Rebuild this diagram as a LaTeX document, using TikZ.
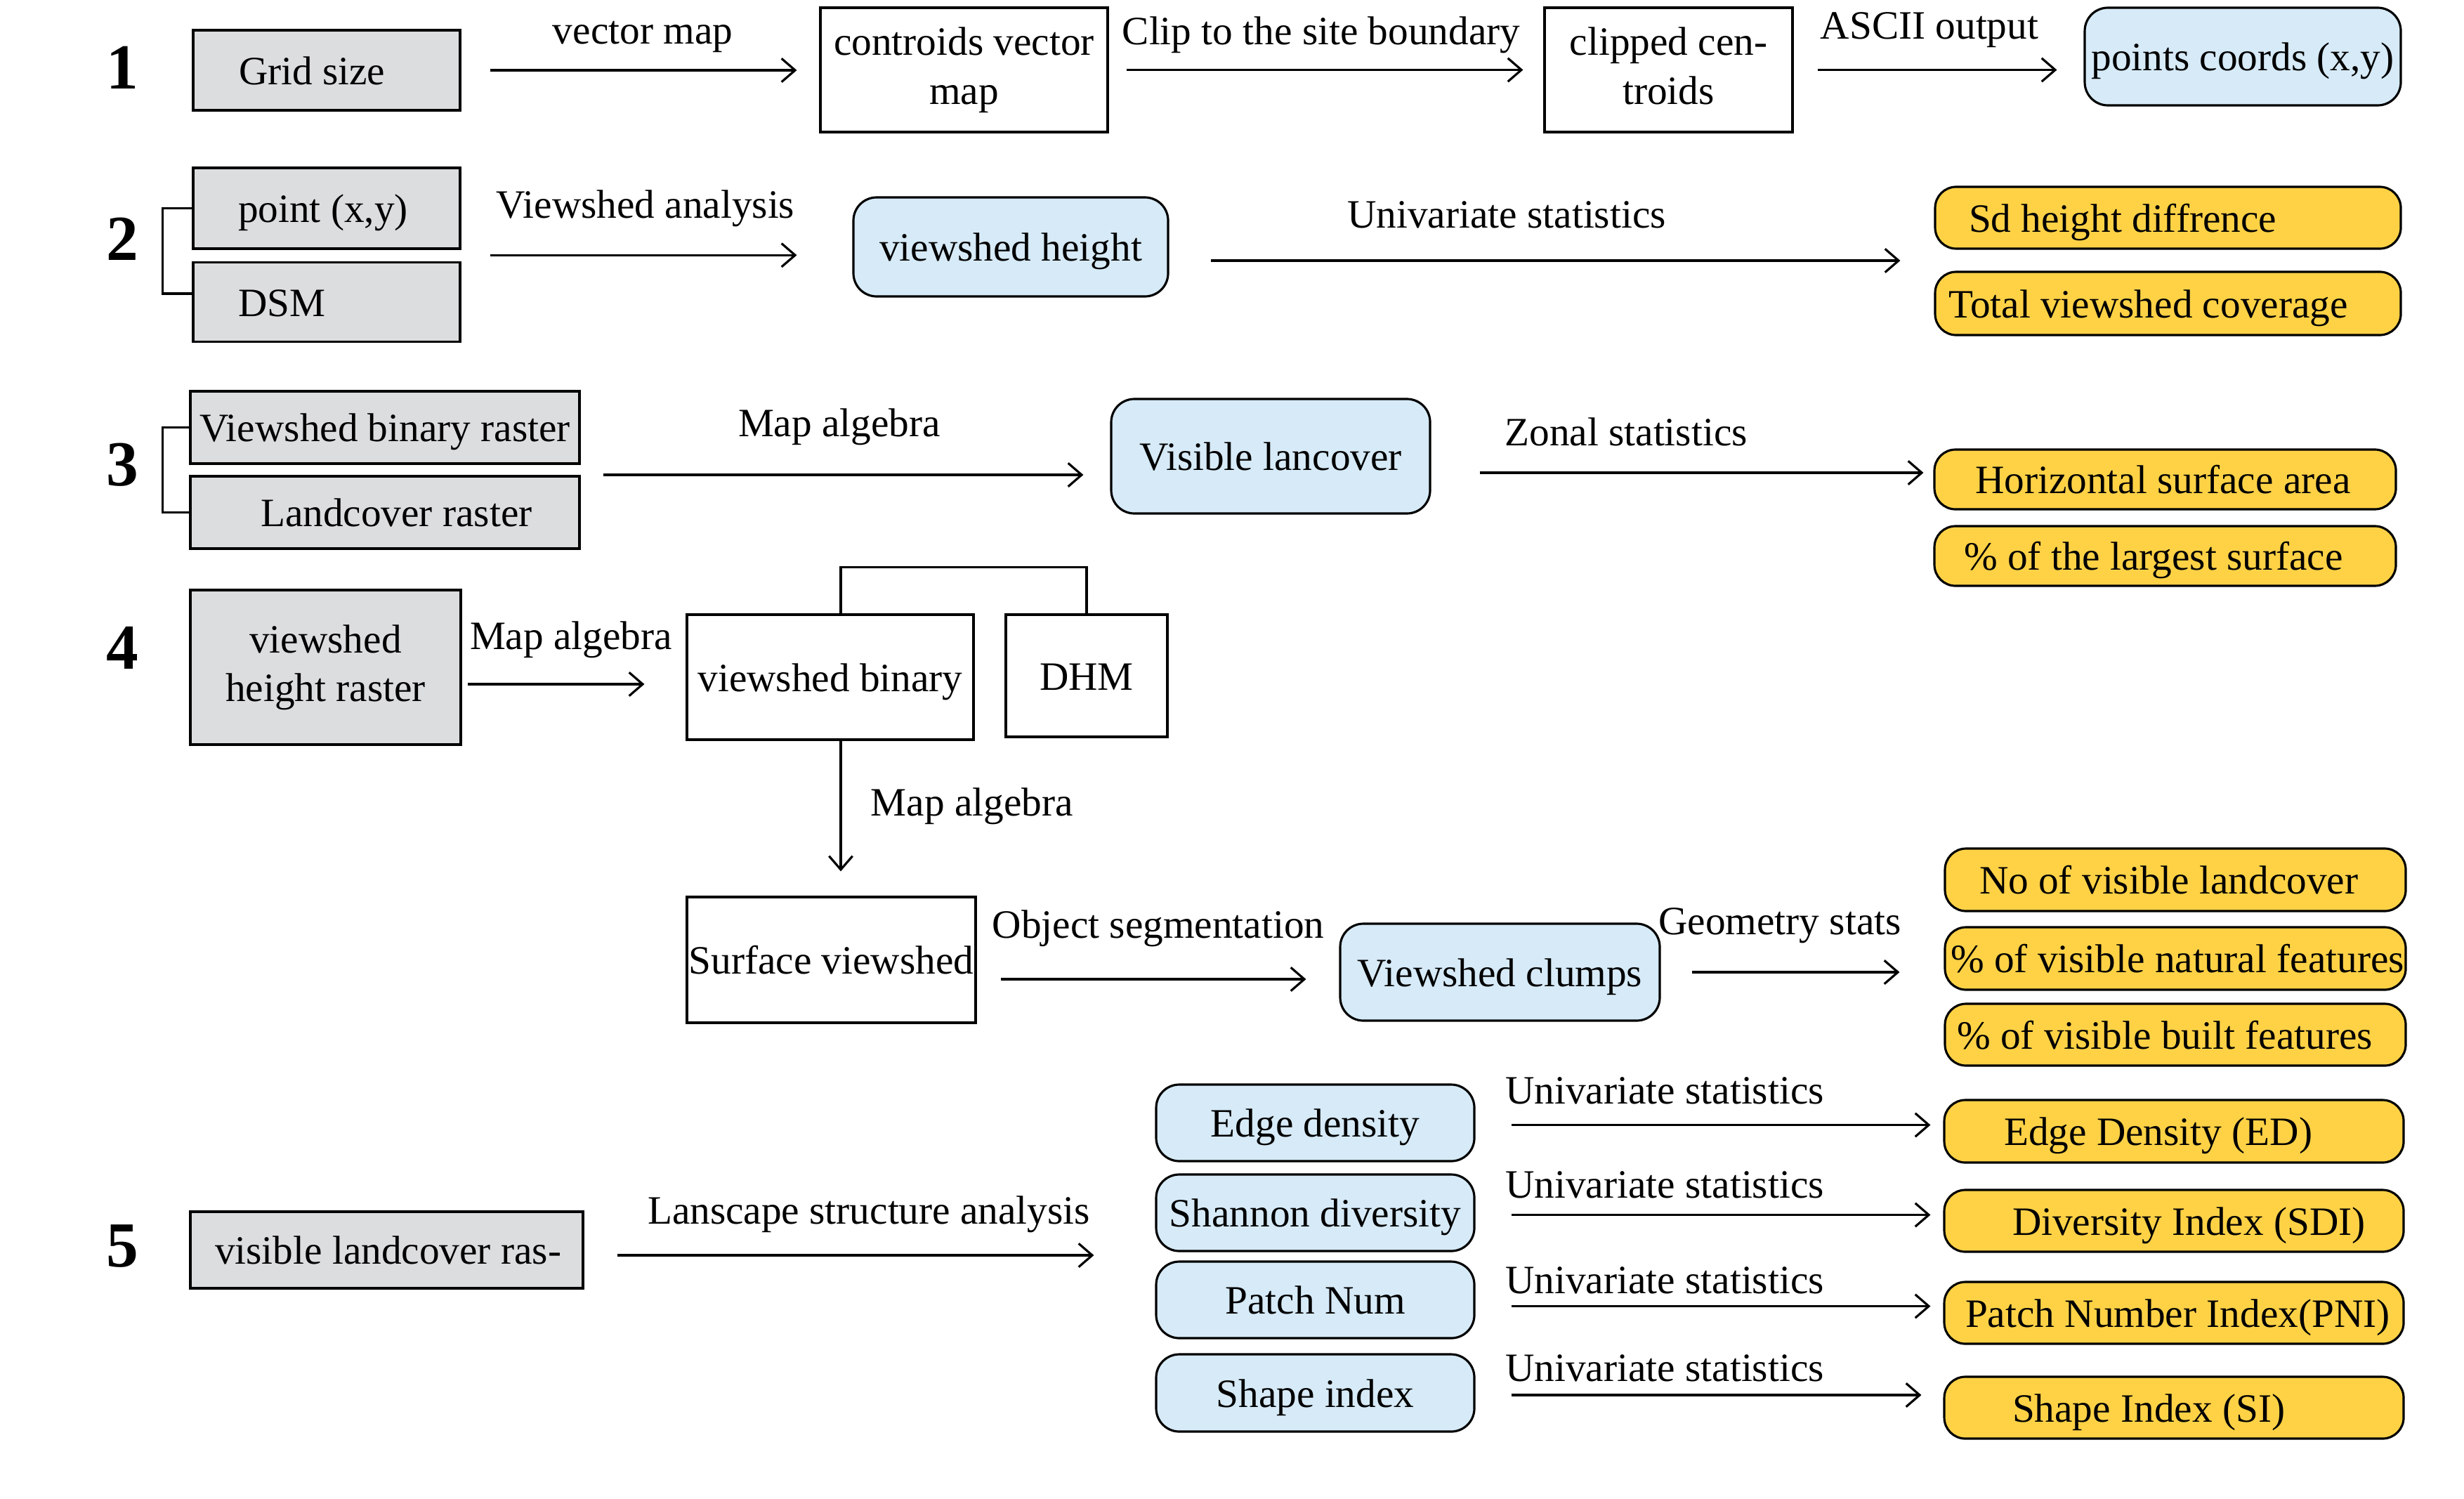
\documentclass[tikz,border=0pt]{standalone}
\usepackage{fontspec}
\setmainfont{Liberation Serif}
\usetikzlibrary{arrows.meta,calc}
\definecolor{boxgray}{HTML}{DCDDDF}
\definecolor{boxblue}{HTML}{D6EAF7}
\definecolor{boxyellow}{HTML}{FFD246}
\newcommand\lpad[3]{\makebox[#1][l]{\hspace*{#2}#3}}
\tikzset{
 basebox/.style={draw=black, line width=0.9pt, inner sep=0pt, font=\fontsize{16.3}{19.8}\selectfont},
 oneline/.style={text height=14.5pt, text depth=3pt},
 graybox/.style={basebox, oneline, fill=boxgray},
 grayboxml/.style={basebox, fill=boxgray},
 whitebox/.style={basebox, fill=white},
 bluebox/.style={basebox, oneline, fill=boxblue, rounded corners=0.33cm},
 yellowbox/.style={basebox, oneline, fill=boxyellow, rounded corners=0.3cm},
 lbl/.style={inner sep=0pt, font=\fontsize{16.3}{19.8}\selectfont},
 num/.style={inner sep=0pt, font=\fontsize{26}{30}\selectfont\bfseries},
 arr/.style={line width=0.9pt, -{Straight Barb[length=5.5pt,width=9.5pt]}},
 link/.style={line width=0.9pt},
}
\begin{document}
\begin{tikzpicture}[x=1cm,y=-1cm]
\useasboundingbox (0,0) rectangle (35.08,21.33);
% ---------- Row 1
\node[num] (n1) at (1.74,0.96) {1};
\node[graybox, minimum width=3.80cm, minimum height=1.14cm] (grid) at (4.65,1.00) {\lpad{3.80cm}{0.65cm}{Grid size}};
\node[lbl] (l1) at (9.15,0.52) {vector map};
\node[whitebox, align=center, minimum width=4.09cm, minimum height=1.77cm] (cvm) at (13.725,0.995) {controids vector\\map};
\node[lbl] (l2) at (18.81,0.50) {Clip to the site boundary};
\node[whitebox, minimum width=3.53cm, minimum height=1.77cm] (cc) at (23.755,0.995) {\raisebox{0.05cm}{\begin{tabular}{@{}c@{}}clipped cen-\\troids\end{tabular}}};
\node[lbl] (l3) at (27.47,0.43) {ASCII output};
\node[bluebox, minimum width=4.50cm, minimum height=1.39cm] (pc) at (31.93,0.805) {points coords (x,y)};
\draw[arr, shorten >=0.32cm] ([xshift=0.41cm]grid.east) coordinate (a1) -- (a1 -| cvm.west);
\draw[arr, shorten >=0.29cm] ([xshift=0.25cm]cvm.east) coordinate (a2) -- (a2 -| cc.west);
\draw[arr, shorten >=0.38cm] ([xshift=0.34cm]cc.east) coordinate (a3) -- (a3 -| pc.west);
% ---------- Row 2
\node[num] (n2) at (1.74,3.40) {2};
\node[graybox, minimum width=3.80cm, minimum height=1.15cm] (pt) at (4.65,2.965) {\lpad{3.80cm}{0.64cm}{point (x,y)}};
\node[graybox, minimum width=3.80cm, minimum height=1.13cm] (dsm) at (4.65,4.30) {\lpad{3.80cm}{0.64cm}{DSM}};
\draw[link] (pt.west) -- ++(-0.42,0) |- ([yshift=0.12cm]dsm.west);
\node[lbl] (l4) at (9.19,2.97) {Viewshed analysis};
\node[bluebox, minimum width=4.48cm, minimum height=1.41cm] (vh) at (14.39,3.515) {viewshed height};
\coordinate (m2) at ($(pt.east)!0.5!(dsm.east)$);
\draw[arr, shorten >=0.79cm] ([xshift=0.41cm]m2) coordinate (a4) -- (a4 -| vh.west);
\node[lbl] (l5) at (21.45,3.06) {Univariate statistics};
\node[yellowbox, minimum width=6.63cm, minimum height=0.88cm] (sd) at (30.865,3.10) {\lpad{6.63cm}{0.48cm}{Sd height diffrence}};
\node[yellowbox, minimum width=6.63cm, minimum height=0.90cm] (tvc) at (30.865,4.32) {\lpad{6.63cm}{0.19cm}{Total viewshed coverage}};
\coordinate (t2) at ($(sd.west)!0.5!(tvc.west)$);
\draw[arr, shorten >=0.48cm] ([xshift=0.59cm]vh.east |- t2) -- (t2);
% ---------- Row 3
\node[num] (n3) at (1.74,6.62) {3};
\node[graybox, minimum width=5.54cm, minimum height=1.03cm] (vbr) at (5.48,6.085) {Viewshed binary raster};
\node[graybox, minimum width=5.54cm, minimum height=1.03cm] (lr) at (5.48,7.295) {\lpad{5.54cm}{1.00cm}{Landcover raster}};
\draw[link] (vbr.west) -- ++(-0.38,0) |- (lr.west);
\node[lbl] (l6) at (11.95,6.08) {Map algebra};
\node[bluebox, minimum width=4.54cm, minimum height=1.63cm] (vl) at (18.09,6.495) {Visible lancover};
\coordinate (m3) at ($(vbr.east)!0.5!(lr.east)$);
\draw[arr, shorten >=0.38cm] ([xshift=0.32cm,yshift=-0.07cm]m3) coordinate (a5) -- (a5 -| vl.west);
\node[lbl] (l7) at (23.15,6.15) {Zonal statistics};
\node[yellowbox, minimum width=6.57cm, minimum height=0.85cm] (hsa) at (30.825,6.825) {\lpad{6.57cm}{0.58cm}{Horizontal surface area}};
\node[yellowbox, minimum width=6.57cm, minimum height=0.85cm] (pls) at (30.825,7.915) {\lpad{6.57cm}{0.42cm}{\% of the largest surface}};
\draw[arr, shorten >=0.14cm] ([xshift=0.69cm,yshift=-0.235cm]vl.east) coordinate (a6) -- (a6 -| hsa.west);
% ---------- Row 4
\node[num] (n4) at (1.74,9.22) {4};
\node[grayboxml, minimum width=3.85cm, minimum height=2.20cm] (vhr) at (4.635,9.50) {\raisebox{0.08cm}{\begin{tabular}{@{}c@{}}viewshed\\height raster\end{tabular}}};
\node[lbl] (l8) at (8.13,9.11) {Map algebra};
\node[whitebox, oneline, minimum width=4.08cm, minimum height=1.78cm] (vb) at (11.82,9.64) {viewshed binary};
\node[whitebox, oneline, minimum width=2.30cm, minimum height=1.74cm] (dhm) at (15.47,9.62) {DHM};
\draw[arr, shorten >=0.59cm] ([xshift=0.08cm,yshift=-0.24cm]vhr.east) coordinate (a7) -- (a7 -| vb.west);
\draw[link] ([xshift=0.15cm]vb.north) -- ++(0,-0.66) -| (dhm.north);
\node[whitebox, oneline, minimum width=4.11cm, minimum height=1.79cm] (sv) at (11.835,13.665) {Surface viewshed};
\draw[arr, shorten >=0.35cm] ([xshift=0.15cm]vb.south) coordinate (a8) -- (a8 |- sv.north);
\node[lbl, anchor=west] (l9) at (12.39,11.48) {Map algebra};
\node[lbl] (l10) at (16.49,13.22) {Object segmentation};
\node[bluebox, minimum width=4.55cm, minimum height=1.38cm] (vc) at (21.355,13.84) {Viewshed clumps};
\draw[arr, shorten >=0.47cm] ([xshift=0.34cm,yshift=-0.275cm]sv.east) coordinate (a9) -- (a9 -| vc.west);
\node[lbl] (l11) at (25.34,13.18) {Geometry stats};
\node[yellowbox, minimum width=6.56cm, minimum height=0.89cm] (nvl) at (30.97,12.525) {\lpad{6.56cm}{0.49cm}{No of visible landcover}};
\node[yellowbox, minimum width=6.56cm, minimum height=0.89cm] (pnf) at (30.97,13.645) {\lpad{6.56cm}{0.08cm}{\% of visible natural features}};
\node[yellowbox, minimum width=6.56cm, minimum height=0.88cm] (pbf) at (30.97,14.73) {\lpad{6.56cm}{0.17cm}{\% of visible built features}};
\draw[arr, shorten >=0.63cm] ([xshift=0.44cm]vc.east) coordinate (a10) -- (a10 -| pnf.west);
% ---------- Row 5
\node[num] (n5) at (1.74,17.74) {5};
\node[graybox, minimum width=5.59cm, minimum height=1.09cm] (vlr) at (5.505,17.795) {\lpad{5.59cm}{0.35cm}{visible landcover ras-}};
\node[lbl] (l12) at (12.37,17.29) {Lanscape structure analysis};
\node[bluebox, minimum width=4.53cm, minimum height=1.09cm] (ed) at (18.725,15.985) {Edge density};
\node[bluebox, minimum width=4.53cm, minimum height=1.09cm] (sh) at (18.725,17.265) {Shannon diversity};
\node[bluebox, minimum width=4.53cm, minimum height=1.09cm] (pn) at (18.725,18.505) {Patch Num};
\node[bluebox, minimum width=4.53cm, minimum height=1.10cm] (si) at (18.725,19.83) {Shape index};
\draw[arr, shorten >=0.87cm] ([xshift=0.47cm,yshift=-0.075cm]vlr.east) coordinate (a11) -- (a11 -| ed.west);
\node[yellowbox, minimum width=6.54cm, minimum height=0.89cm] (edi) at (30.95,16.105) {\lpad{6.54cm}{0.85cm}{Edge Density (ED)}};
\node[yellowbox, minimum width=6.54cm, minimum height=0.88cm] (sdi) at (30.95,17.38) {\lpad{6.54cm}{0.97cm}{Diversity Index (SDI)}};
\node[yellowbox, minimum width=6.54cm, minimum height=0.88cm] (pni) at (30.95,18.69) {\lpad{6.54cm}{0.30cm}{Patch Number Index(PNI)}};
\node[yellowbox, minimum width=6.54cm, minimum height=0.88cm] (sii) at (30.95,20.04) {\lpad{6.54cm}{0.97cm}{Shape Index (SI)}};
\node[lbl] (u1) at (23.70,15.53) {Univariate statistics};
\node[lbl] (u2) at (23.70,16.87) {Univariate statistics};
\node[lbl] (u3) at (23.70,18.23) {Univariate statistics};
\node[lbl] (u4) at (23.70,19.48) {Univariate statistics};
\draw[arr, shorten >=0.18cm] ([xshift=0.51cm,yshift=-0.03cm]ed.east) coordinate (b1) -- (b1 -| edi.west);
\draw[arr, shorten >=0.18cm] ([xshift=0.51cm,yshift=-0.03cm]sh.east) coordinate (b2) -- (b2 -| sdi.west);
\draw[arr, shorten >=0.18cm] ([xshift=0.51cm,yshift=-0.09cm]pn.east) coordinate (b3) -- (b3 -| pni.west);
\draw[arr, shorten >=0.31cm] ([xshift=0.51cm,yshift=-0.03cm]si.east) coordinate (b4) -- (b4 -| sii.west);
\end{tikzpicture}
\end{document}
